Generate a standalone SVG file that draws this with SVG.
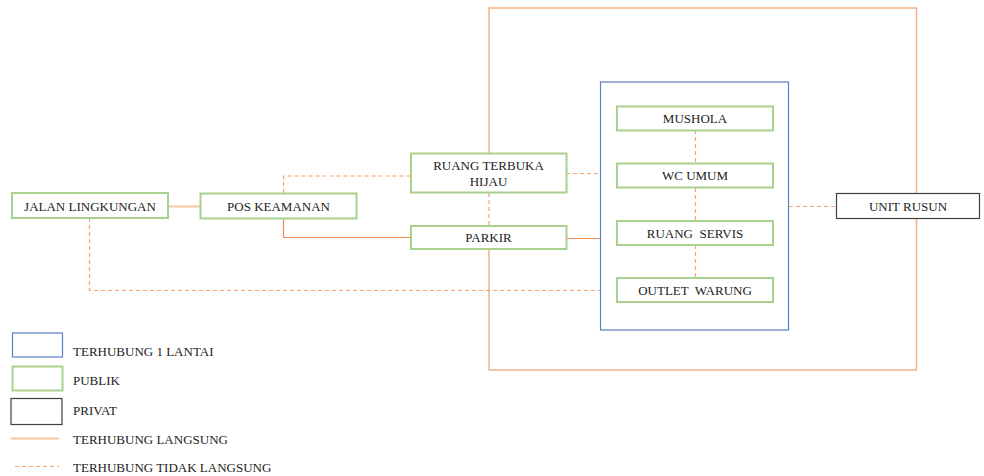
<svg xmlns="http://www.w3.org/2000/svg" width="984" height="476" viewBox="0 0 984 476">
<style>
text{font-family:"Liberation Serif","Times New Roman",serif;font-size:13px;fill:#222;white-space:pre;}
.c{text-anchor:middle;}
.pub{fill:#fff;stroke:#A9D18E;stroke-width:2;}
.prv{fill:#fff;stroke:#404040;stroke-width:1.2;}
.blu{fill:none;stroke:#5B7FC7;stroke-width:1.2;}
.frame{fill:none;stroke:#F4B183;stroke-width:1.5;}
.sol{fill:none;stroke:#ED8C4E;stroke-width:1.2;}
.sol2{fill:none;stroke:#F8C4A0;stroke-width:2;}
.dsh{fill:none;stroke:#F4A56E;stroke-width:1.2;stroke-dasharray:4 3;}
</style>
<rect width="984" height="476" fill="#fff"/>
<g id="frame">
<path class="frame" d="M489 153 V8 H916.5 V370 H489 V226"/>
<rect class="blu" x="600.5" y="82" width="188" height="248"/>
</g>
<g id="connectors">
<line class="sol2" x1="168" y1="206.5" x2="200" y2="206.5"/>
<path class="dsh" d="M283.5 193 V176 H410"/>
<path class="sol" d="M283.5 218 V237.5 H410"/>
<path class="dsh" d="M89.5 218 V290.5 H600"/>
<line class="dsh" x1="489" y1="193" x2="489" y2="226"/>
<line class="dsh" x1="566" y1="173.5" x2="600" y2="173.5"/>
<line class="sol" x1="566" y1="238.5" x2="600" y2="238.5"/>
<line class="dsh" x1="695.5" y1="130" x2="695.5" y2="163"/>
<line class="dsh" x1="695.5" y1="188" x2="695.5" y2="221"/>
<line class="dsh" x1="695.5" y1="245" x2="695.5" y2="278"/>
<line class="dsh" x1="789" y1="206.5" x2="836" y2="206.5"/>
</g>
<g id="jalan"><rect class="pub" x="12" y="193" width="156" height="25"/><text class="c" x="90" y="210.5">JALAN LINGKUNGAN</text></g>
<g id="pos"><rect class="pub" x="200.5" y="193.5" width="156" height="25"/><text class="c" x="278.5" y="210.5">POS KEAMANAN</text></g>
<g id="rth"><rect class="pub" x="411" y="153.5" width="155.5" height="39"/><text class="c" x="488.5" y="170">RUANG TERBUKA</text><text class="c" x="488.5" y="186">HIJAU</text></g>
<g id="parkir"><rect class="pub" x="411" y="226" width="155.5" height="23"/><text class="c" x="488.5" y="242">PARKIR</text></g>
<g id="mushola"><rect class="pub" x="617" y="106.5" width="156" height="24"/><text class="c" x="695" y="123">MUSHOLA</text></g>
<g id="wc"><rect class="pub" x="617" y="163.5" width="156" height="24"/><text class="c" x="695" y="180">WC UMUM</text></g>
<g id="servis"><rect class="pub" x="617" y="221" width="156" height="24"/><text class="c" x="695" y="237.5" xml:space="preserve">RUANG  SERVIS</text></g>
<g id="outlet"><rect class="pub" x="617" y="278" width="156" height="24"/><text class="c" x="695" y="294.5" xml:space="preserve">OUTLET  WARUNG</text></g>
<g id="unit"><rect class="prv" x="836.5" y="193.5" width="143" height="25"/><text class="c" x="908" y="210.5">UNIT RUSUN</text></g>
<g id="legend">
<rect class="blu" x="12.5" y="333" width="50" height="24"/>
<text x="73" y="356">TERHUBUNG 1 LANTAI</text>
<rect class="pub" x="12.5" y="366.5" width="50" height="24"/>
<text x="73" y="385">PUBLIK</text>
<rect class="prv" x="11" y="398.5" width="51" height="26"/>
<text x="73" y="414.5">PRIVAT</text>
<line class="sol2" x1="11" y1="438.5" x2="59" y2="438.5"/>
<text x="73" y="443.5">TERHUBUNG LANGSUNG</text>
<line class="dsh" x1="15" y1="466.5" x2="59" y2="466.5"/>
<text x="73" y="472">TERHUBUNG TIDAK LANGSUNG</text>
</g>
</svg>
